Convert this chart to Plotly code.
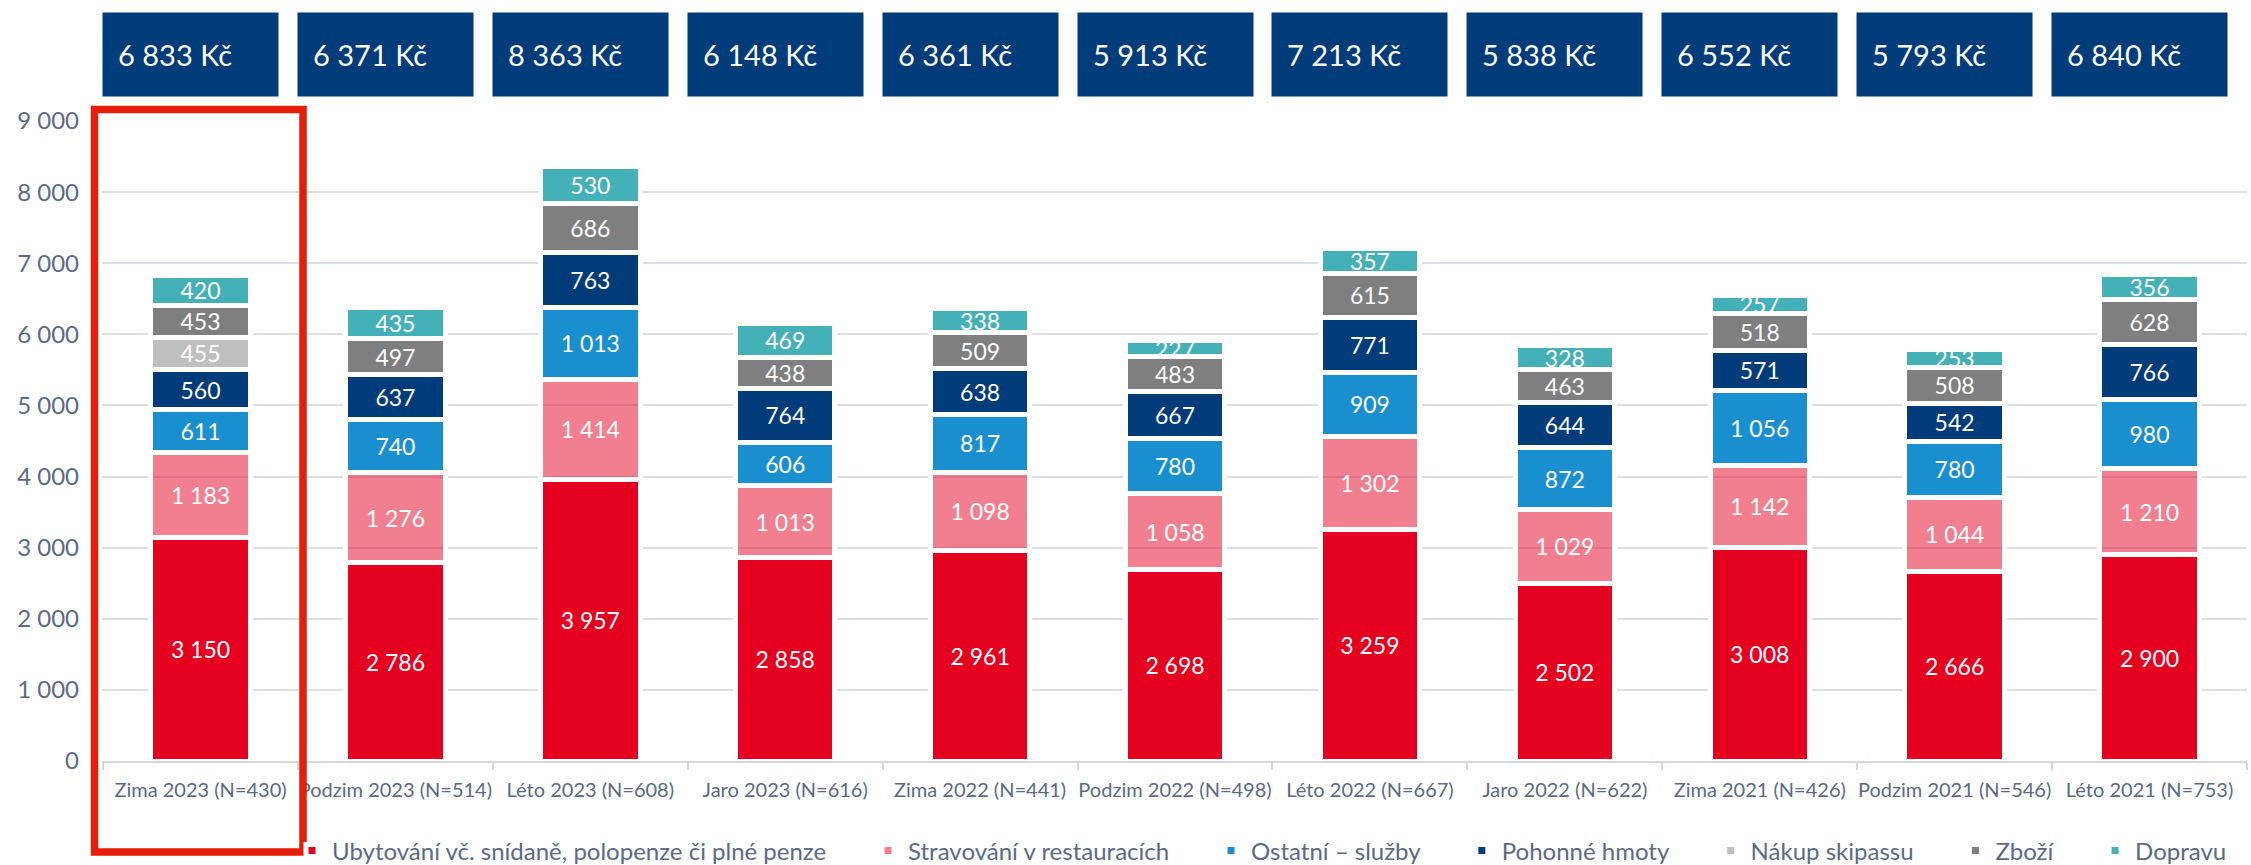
import plotly.graph_objects as go

categories = ["Zima 2023 (N=430)", "Podzim 2023 (N=514)", "Léto 2023 (N=608)", "Jaro 2023 (N=616)",
              "Zima 2022 (N=441)", "Podzim 2022 (N=498)", "Léto 2022 (N=667)", "Jaro 2022 (N=622)",
              "Zima 2021 (N=426)", "Podzim 2021 (N=546)", "Léto 2021 (N=753)"]

ubytovani = [3150, 2786, 3957, 2858, 2961, 2698, 3259, 2502, 3008, 2666, 2900]
stravovani = [1183, 1276, 1414, 1013, 1098, 1058, 1302, 1029, 1142, 1044, 1210]
ostatni = [611, 740, 1013, 606, 817, 780, 909, 872, 1056, 780, 980]
pohonne = [560, 637, 763, 764, 638, 667, 771, 644, 571, 542, 766]
skipass = [455, None, None, None, None, None, None, None, None, None, None]
zbozi = [453, 497, 686, 438, 509, 483, 615, 463, 518, 508, 628]
dopravu = [420, 435, 530, 469, 338, 227, 357, 328, 257, 253, 356]

totals = [6833, 6371, 8363, 6148, 6361, 5913, 7213, 5838, 6552, 5793, 6840]

series_names = ["Ubytování vč. snídaně, polopenze či plné penze", "Stravování v restauracích",
                "Ostatní – služby", "Pohonné hmoty", "Nákup skipassu", "Zboží", "Dopravu"]
series_values = [ubytovani, stravovani, ostatni, pohonne, skipass, zbozi, dopravu]
series_colors = ["#e5001f", "rgba(229,0,31,0.5)", "#1a8fd0", "#003b7a", "#bfbfbf", "#7f7f7f", "#44b0b7"]
legend_pad = [6, 6, 6, 6, 6, 6, 0]  # extra spacing after legend entries

FONT = "Lato"
TXT = "#5a6a86"
W, H = 2251, 865
ML, MR, MT, MB = 102, 4, 121, 104
PH = H - MT - MB
PW = W - ML - MR

def px_x(p):
    return (p - ML) / PW

def px_y(p):
    return (H - MB - p) / PH

fig = go.Figure()
for name, vals, col, pad in zip(series_names, series_values, series_colors, legend_pad):
    fig.add_trace(go.Bar(
        x=categories, y=vals, name=name + "\u00a0" * pad,
        marker=dict(color=col, line=dict(color="white", width=5)),
        texttemplate="%{y:,.0f}", textposition="inside", insidetextanchor="middle",
        textangle=0, textfont=dict(color="white", size=23, family=FONT),
        hoverinfo="skip",
    ))

annotations = []
for cat, tot in zip(categories, totals):
    annotations.append(dict(
        x=cat, xref="x", xshift=-10, y=px_y(54.5), yref="paper", yanchor="middle",
        text=f"{tot:,}".replace(",", " ") + " Kč", showarrow=False,
        font=dict(color="white", size=29, family=FONT),
        bgcolor="#003b7a", borderpad=15, width=145, height=53, align="left", valign="middle",
    ))

shapes = [dict(type="rect", xref="paper", yref="paper",
               x0=px_x(94.5), x1=px_x(303), y0=px_y(852), y1=px_y(109.5),
               line=dict(color="#e41e08", width=7.5), fillcolor="rgba(0,0,0,0)", layer="above")]

fig.update_layout(
    width=W, height=H, barmode="stack", bargap=0.49,
    margin=dict(l=ML, r=MR, t=MT, b=MB, autoexpand=False),
    paper_bgcolor="white", plot_bgcolor="white",
    separators=", ",
    font=dict(family=FONT, color=TXT),
    uniformtext=dict(minsize=23, mode="show"),
    showlegend=True,
    legend=dict(orientation="h", x=px_x(292), xanchor="left", y=px_y(851), yanchor="middle",
                font=dict(size=24, color=TXT, family=FONT), traceorder="normal",
                itemwidth=30, bgcolor="rgba(0,0,0,0)"),
    annotations=annotations, shapes=shapes,
)
fig.update_yaxes(range=[0, 9000], dtick=1000, tickformat=",.0f", showgrid=True,
                 gridcolor="#dadfe7", gridwidth=2, zeroline=False, showline=False,
                 tickfont=dict(size=24, color=TXT, family=FONT), ticklabelstandoff=22)
fig.update_xaxes(type="category", showline=True, linecolor="#d3d8e0", linewidth=2,
                 ticks="outside", tickson="boundaries", ticklen=7, tickcolor="#d3d8e0", tickwidth=2,
                 tickangle=0, tickfont=dict(size=20, color=TXT, family=FONT), ticklabelstandoff=10)

fig.write_html("out.html", post_script="document.body.style.margin='0';",
               config={"displayModeBar": False})
